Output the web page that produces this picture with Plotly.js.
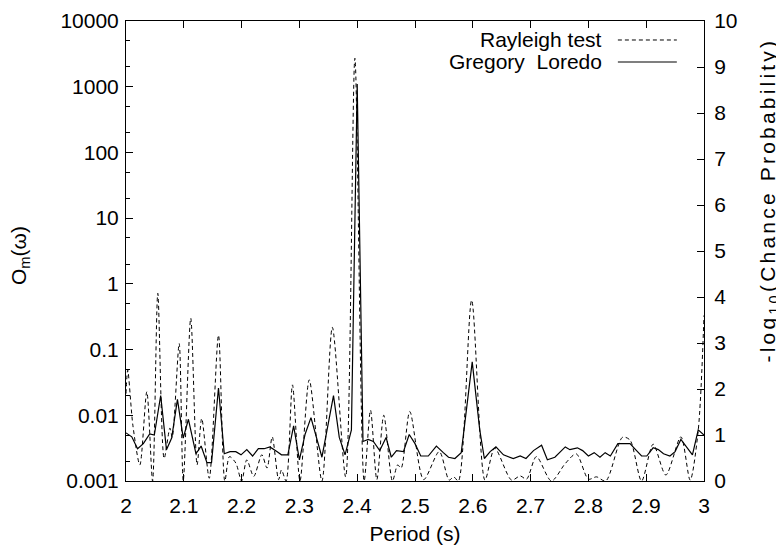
<!DOCTYPE html>
<html>
<head>
<meta charset="utf-8">
<script src="https://cdn.plot.ly/plotly-3.0.1.min.js"></script>
<style>
  html, body { margin: 0; padding: 0; background: #fff; }
  #chart { width: 776px; height: 546px; }
  g.annotation[data-index="3"] text { letter-spacing: 3.2px; }
</style>
</head>
<body>
<div id="chart"></div>
<script>
// Gregory-Loredo odds ratio O_m(omega) (left, log axis)
const glPeriod = [2.000,2.010,2.020,2.030,2.041,2.049,2.060,2.070,2.079,2.089,2.099,2.108,2.121,2.130,2.140,2.148,2.160,2.170,2.180,2.190,2.199,2.209,2.219,2.229,2.239,2.249,2.261,2.269,2.280,2.290,2.300,2.310,2.320,2.339,2.359,2.369,2.379,2.390,2.400,2.410,2.419,2.428,2.439,2.450,2.459,2.468,2.480,2.490,2.500,2.510,2.523,2.537,2.549,2.558,2.569,2.580,2.599,2.612,2.620,2.630,2.640,2.653,2.670,2.682,2.692,2.705,2.719,2.729,2.742,2.760,2.768,2.781,2.790,2.800,2.810,2.820,2.829,2.838,2.851,2.872,2.880,2.892,2.901,2.912,2.921,2.930,2.941,2.950,2.960,2.970,2.980,2.990,3.000];
const glOdds = [0.0054,0.0047,0.0031,0.0037,0.0052,0.0050,0.020,0.0030,0.0045,0.0175,0.0045,0.0087,0.0026,0.0034,0.0019,0.0019,0.026,0.0026,0.0028,0.0028,0.0025,0.0030,0.0024,0.0031,0.0031,0.0033,0.0028,0.0025,0.0025,0.0069,0.0021,0.0052,0.0092,0.0023,0.0199,0.0046,0.0025,0.006,1100,0.0040,0.0043,0.0040,0.0029,0.0046,0.0023,0.0029,0.0028,0.0051,0.0037,0.0024,0.0024,0.0034,0.0027,0.0023,0.0022,0.0027,0.065,0.0060,0.0022,0.0028,0.0033,0.0025,0.0022,0.0024,0.0022,0.0029,0.0035,0.0021,0.0023,0.0033,0.0030,0.0032,0.0029,0.0024,0.0027,0.0023,0.0027,0.0024,0.0037,0.0037,0.0031,0.0024,0.0024,0.0032,0.0030,0.0026,0.0024,0.0028,0.0043,0.0033,0.0025,0.0060,0.0050];

// Rayleigh test: -log10(chance probability) (right, linear axis)
const rayPeriod = [2.000,2.003,2.012,2.024,2.036,2.046,2.055,2.066,2.076,2.080,2.092,2.099,2.112,2.123,2.131,2.144,2.160,2.171,2.179,2.190,2.200,2.209,2.221,2.235,2.244,2.253,2.264,2.269,2.277,2.288,2.301,2.317,2.339,2.357,2.380,2.396,2.412,2.423,2.434,2.446,2.461,2.470,2.476,2.491,2.515,2.542,2.559,2.567,2.575,2.598,2.621,2.638,2.667,2.682,2.693,2.710,2.736,2.760,2.779,2.800,2.814,2.830,2.859,2.872,2.892,2.912,2.934,2.960,2.976,2.990,3.000];
const rayLogP = [1.9,2.41,1.2,0.35,1.94,0.0,4.08,0.49,1.15,0.95,2.99,0.0,3.54,0.35,1.36,0.06,3.17,0.0,0.53,0.39,0.0,0.46,0.1,0.57,0.28,0.96,0.03,0.24,0.0,2.09,0.0,2.2,0.0,3.34,0.09,9.19,0.0,1.54,0.03,1.43,0.0,0.35,0.28,1.51,0.03,0.64,0.02,0.09,0.0,3.93,0.02,0.71,0.02,0.11,0.04,0.53,0.0,0.38,0.59,0.04,0.09,0.0,0.95,0.89,0.0,0.8,0.13,0.96,0.02,1.1,3.6];

const xTicks = [2, 2.1, 2.2, 2.3, 2.4, 2.5, 2.6, 2.7, 2.8, 2.9, 3];
const xTickText = ['2','2.1','2.2','2.3','2.4','2.5','2.6','2.7','2.8','2.9','3'];
const yTicks = [0.001, 0.01, 0.1, 1, 10, 100, 1000, 10000];
const yTickText = ['0.001','0.01','0.1','1','10','100','1000','10000'];
const yMinorTicks = [0.002,0.005,0.02,0.05,0.2,0.5,2,5,20,50,200,500,2000,5000];
const y2Ticks = [0,1,2,3,4,5,6,7,8,9,10];

const FONT = 'Liberation Sans, Arial, Helvetica, sans-serif';
const FS = 21;

const traces = [
  {
    x: glPeriod, y: glOdds, type: 'scatter', mode: 'lines', yaxis: 'y',
    name: 'Gregory  Loredo', showlegend: false,
    line: { color: '#000', width: 1.2 }
  },
  {
    x: rayPeriod, y: rayLogP, type: 'scatter', mode: 'lines', yaxis: 'y2',
    name: 'Rayleigh test', showlegend: false,
    line: { color: '#000', width: 1, dash: '4px,3px', shape: 'spline', smoothing: 0.8 }
  }
];

const layout = {
  width: 776, height: 546,
  margin: { l: 126, r: 72, t: 21, b: 65 },
  paper_bgcolor: '#fff', plot_bgcolor: '#fff',
  font: { family: FONT, size: FS, color: '#000' },
  showlegend: false,
  xaxis: {
    range: [2, 3], tickmode: 'array', tickvals: xTicks, ticktext: xTickText,
    ticks: 'inside', ticklen: 7, tickwidth: 1, tickcolor: '#000',
    showline: true, linecolor: '#000', linewidth: 1, mirror: 'ticks',
    showgrid: false, zeroline: false, ticklabelstandoff: 6,
    tickfont: { family: FONT, size: FS, color: '#000' },
    title: { text: 'Period (s)', font: { family: FONT, size: FS, color: '#000' }, standoff: 10 }
  },
  yaxis: {
    type: 'log', range: [-3, 4], tickmode: 'array', tickvals: yTicks, ticktext: yTickText,
    ticks: 'inside', ticklen: 7, tickwidth: 1, tickcolor: '#000',
    minor: { tickmode: 'array', tickvals: yMinorTicks, ticks: 'inside', ticklen: 4, tickcolor: '#000', showgrid: false },
    showline: true, linecolor: '#000', linewidth: 1, mirror: false,
    showgrid: false, zeroline: false, ticklabelstandoff: 2,
    tickfont: { family: FONT, size: FS, color: '#000' }
  },
  yaxis2: {
    overlaying: 'y', side: 'right', range: [0, 10],
    tickmode: 'array', tickvals: y2Ticks,
    ticks: 'inside', ticklen: 7, tickwidth: 1, tickcolor: '#000',
    showline: true, linecolor: '#000', linewidth: 1,
    showgrid: false, zeroline: false, ticklabelstandoff: 5,
    tickfont: { family: FONT, size: FS, color: '#000' }
  },
  annotations: [
    { xref: 'paper', yref: 'paper', x: 0.827, y: 0.9587, xanchor: 'right', yanchor: 'middle',
      text: 'Rayleigh test', showarrow: false, font: { family: FONT, size: FS, color: '#000' } },
    { xref: 'paper', yref: 'paper', x: 0.827, y: 0.9109, xanchor: 'right', yanchor: 'middle',
      text: 'Gregory\u00a0\u00a0Loredo', showarrow: false, font: { family: FONT, size: FS, color: '#000' } },
    { xref: 'paper', yref: 'paper', x: -0.1834, y: 0.4913, xanchor: 'center', yanchor: 'middle',
      textangle: -90, text: 'O<sub>m</sub>(ω)', showarrow: false, font: { family: FONT, size: FS, color: '#000' } },
    { xref: 'paper', yref: 'paper', x: 1.1125, y: 0.611, xanchor: 'center', yanchor: 'middle',
      textangle: -90, text: '-log<sub>10</sub>(Chance Probability)', showarrow: false, font: { family: FONT, size: FS, color: '#000' } }
  ],
  shapes: [
    { type: 'line', xref: 'paper', yref: 'paper', x0: 0.851, x1: 0.953, y0: 0.9587, y1: 0.9587,
      line: { color: '#000', width: 1, dash: '4px,3px' } },
    { type: 'line', xref: 'paper', yref: 'paper', x0: 0.851, x1: 0.953, y0: 0.9109, y1: 0.9109,
      line: { color: '#000', width: 1.2 } }
  ]
};

Plotly.newPlot('chart', traces, layout, { displayModeBar: false, staticPlot: true });
</script>
</body>
</html>
